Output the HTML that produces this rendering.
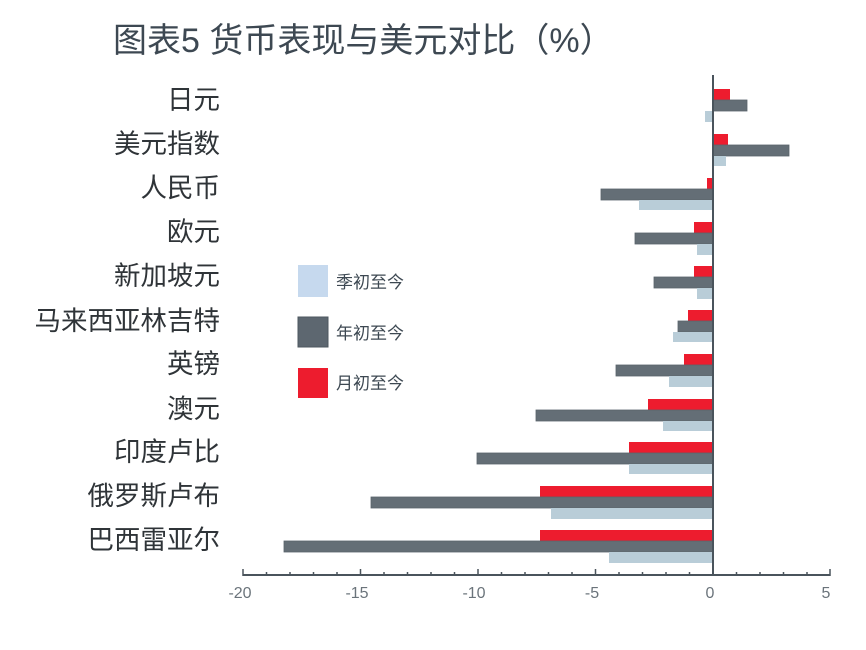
<!DOCTYPE html>
<html><head><meta charset="utf-8"><style>
html,body{margin:0;padding:0;background:#fff;}
svg{display:block;font-family:"Liberation Sans","Noto Sans CJK SC",sans-serif;}
</style></head><body>
<svg width="866" height="650" viewBox="0 0 866 650" xmlns="http://www.w3.org/2000/svg">
<text x="113" y="52" font-size="34" fill="#3d4852">图表5 货币表现与美元对比（%）</text>
<g font-size="26.5" fill="#2f3438" text-anchor="end">
<text x="220" y="109">日元</text>
<text x="220" y="153">美元指数</text>
<text x="220" y="197">人民币</text>
<text x="220" y="241">欧元</text>
<text x="220" y="285">新加坡元</text>
<text x="220" y="330">马来西亚林吉特</text>
<text x="220" y="373">英镑</text>
<text x="220" y="418">澳元</text>
<text x="220" y="461">印度卢比</text>
<text x="220" y="505">俄罗斯卢布</text>
<text x="220" y="549">巴西雷亚尔</text>
</g>
<g stroke-width="0.8">
<rect x="713" y="89" width="17" height="11" fill="#ed1c2e"/>
<rect x="713" y="100" width="34" height="11" fill="#646e76" stroke="#59636b"/>
<rect x="705" y="111" width="8" height="11" fill="#b9cdd8"/>
<rect x="713" y="134" width="15" height="11" fill="#ed1c2e"/>
<rect x="713" y="145" width="76" height="11" fill="#646e76" stroke="#59636b"/>
<rect x="713" y="156" width="13" height="10" fill="#b9cdd8"/>
<rect x="707" y="178" width="6" height="11" fill="#ed1c2e"/>
<rect x="601" y="189" width="112" height="11" fill="#646e76" stroke="#59636b"/>
<rect x="639" y="200" width="74" height="10" fill="#b9cdd8"/>
<rect x="694" y="222" width="19" height="11" fill="#ed1c2e"/>
<rect x="635" y="233" width="78" height="11" fill="#646e76" stroke="#59636b"/>
<rect x="697" y="244" width="16" height="11" fill="#b9cdd8"/>
<rect x="694" y="266" width="19" height="11" fill="#ed1c2e"/>
<rect x="654" y="277" width="59" height="11" fill="#646e76" stroke="#59636b"/>
<rect x="697" y="288" width="16" height="11" fill="#b9cdd8"/>
<rect x="688" y="310" width="25" height="11" fill="#ed1c2e"/>
<rect x="678" y="321" width="35" height="11" fill="#646e76" stroke="#59636b"/>
<rect x="673" y="332" width="40" height="10" fill="#b9cdd8"/>
<rect x="684" y="354" width="29" height="11" fill="#ed1c2e"/>
<rect x="616" y="365" width="97" height="11" fill="#646e76" stroke="#59636b"/>
<rect x="669" y="376" width="44" height="11" fill="#b9cdd8"/>
<rect x="648" y="399" width="65" height="11" fill="#ed1c2e"/>
<rect x="536" y="410" width="177" height="11" fill="#646e76" stroke="#59636b"/>
<rect x="663" y="421" width="50" height="10" fill="#b9cdd8"/>
<rect x="629" y="442" width="84" height="11" fill="#ed1c2e"/>
<rect x="477" y="453" width="236" height="11" fill="#646e76" stroke="#59636b"/>
<rect x="629" y="464" width="84" height="10" fill="#b9cdd8"/>
<rect x="540" y="486" width="173" height="11" fill="#ed1c2e"/>
<rect x="371" y="497" width="342" height="11" fill="#646e76" stroke="#59636b"/>
<rect x="551" y="508" width="162" height="11" fill="#b9cdd8"/>
<rect x="540" y="530" width="173" height="11" fill="#ed1c2e"/>
<rect x="284" y="541" width="429" height="11" fill="#646e76" stroke="#59636b"/>
<rect x="609" y="552" width="104" height="11" fill="#b9cdd8"/>
</g>
<line x1="713" y1="75" x2="713" y2="575" stroke="#4a545c" stroke-width="2"/>
<line x1="243" y1="575" x2="830" y2="575" stroke="#4a545c" stroke-width="2"/>
<g stroke="#4a545c" stroke-width="1.5">
<line x1="243" y1="569" x2="243" y2="576"/><line x1="266.5" y1="572" x2="266.5" y2="576"/><line x1="290" y1="572" x2="290" y2="576"/><line x1="313.5" y1="572" x2="313.5" y2="576"/><line x1="337" y1="572" x2="337" y2="576"/>
<line x1="360.5" y1="569" x2="360.5" y2="576"/><line x1="384" y1="572" x2="384" y2="576"/><line x1="407.5" y1="572" x2="407.5" y2="576"/><line x1="431" y1="572" x2="431" y2="576"/><line x1="454.5" y1="572" x2="454.5" y2="576"/>
<line x1="478" y1="569" x2="478" y2="576"/><line x1="501.5" y1="572" x2="501.5" y2="576"/><line x1="525" y1="572" x2="525" y2="576"/><line x1="548.5" y1="572" x2="548.5" y2="576"/><line x1="572" y1="572" x2="572" y2="576"/>
<line x1="595.5" y1="569" x2="595.5" y2="576"/><line x1="619" y1="572" x2="619" y2="576"/><line x1="642.5" y1="572" x2="642.5" y2="576"/><line x1="666" y1="572" x2="666" y2="576"/><line x1="689.5" y1="572" x2="689.5" y2="576"/>
<line x1="736.5" y1="572" x2="736.5" y2="576"/><line x1="760" y1="572" x2="760" y2="576"/><line x1="783.5" y1="572" x2="783.5" y2="576"/><line x1="807" y1="572" x2="807" y2="576"/><line x1="830" y1="569" x2="830" y2="576"/>
</g>
<g font-size="16" fill="#6b747b" text-anchor="middle">
<text x="240" y="598">-20</text>
<text x="357" y="598">-15</text>
<text x="474" y="598">-10</text>
<text x="592" y="598">-5</text>
<text x="710" y="598">0</text>
<text x="826" y="598">5</text>
</g>
<rect x="298" y="265" width="30" height="32" fill="#c6d9ee"/>
<rect x="298" y="317" width="30" height="30" fill="#5d6770" stroke="#4d575f"/>
<rect x="298" y="368" width="30" height="30" fill="#ed1c2e"/>
<g font-size="17" fill="#3d4852">
<text x="336" y="288">季初至今</text>
<text x="336" y="339">年初至今</text>
<text x="336" y="389">月初至今</text>
</g>
</svg>
</body></html>
